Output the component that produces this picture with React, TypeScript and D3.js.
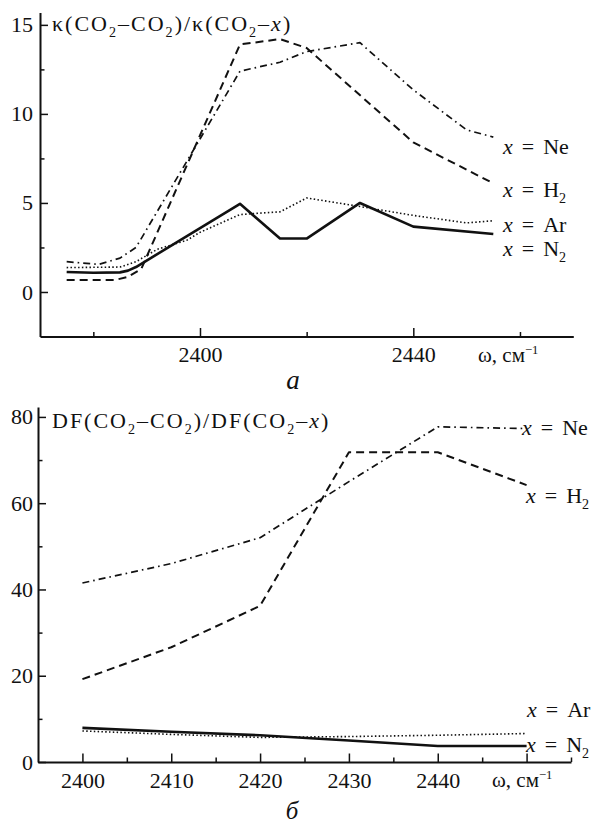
import React, { useEffect, useRef } from 'react';
import * as d3 from 'd3';

// panel "а": κ(CO2–CO2)/κ(CO2–x) vs ω
const topNeX = [2375, 2381, 2385, 2388, 2407.5, 2415, 2420, 2430, 2440, 2450, 2455];
const topNeY = [1.7, 1.55, 1.9, 2.5, 12.4, 12.9, 13.5, 14.0, 11.35, 9.1, 8.7];
const topH2X = [2375, 2384, 2386.5, 2389, 2407.5, 2415, 2420, 2440, 2455];
const topH2Y = [0.67, 0.67, 0.85, 1.3, 13.9, 14.2, 13.7, 8.4, 6.1];
const topArX = [2375, 2385, 2388, 2392, 2397.5, 2400, 2407.5, 2415, 2420, 2430, 2440, 2450, 2455];
const topArY = [1.37, 1.4, 1.7, 2.4, 2.9, 3.35, 4.35, 4.5, 5.28, 4.8, 4.3, 3.88, 4.0];
const topN2X = [2375, 2380, 2385, 2386.5, 2388, 2407.5, 2415, 2420, 2430, 2440, 2455];
const topN2Y = [1.12, 1.08, 1.1, 1.2, 1.4, 4.95, 3.0, 3.0, 5.0, 3.67, 3.26];
const topXTicks = [2400, 2440];
const topXMinor = [2380, 2420, 2460];
const topYTicks = [0, 5, 10, 15];
const topYMinor = [2.5, 7.5, 12.5];

// panel "б": DF(CO2–CO2)/DF(CO2–x) vs ω
const botX = [2400, 2410, 2420, 2430, 2440, 2450];
const botNe = [41.5, 46, 52, 65, 77.7, 77.3];
const botH2 = [19.2, 26.6, 36.2, 71.8, 71.8, 64.2];
const botAr = [7.2, 6.4, 5.7, 5.9, 6.2, 6.6];
const botN2 = [7.9, 7.0, 6.2, 5.0, 3.7, 3.7];
const botXTicks = [2400, 2410, 2420, 2430, 2440, 2450];
const botXLabels = [2400, 2410, 2420, 2430, 2440];
const botXMinor = [2405, 2415, 2425, 2435, 2445, 2455];
const botYTicks = [0, 20, 40, 60, 80];
const botYMinor = [10, 30, 50, 70];

const FONT = "'Liberation Serif', 'Times New Roman', 'DejaVu Serif', serif";
const INK = '#111';

type Part = { t: string; italic?: boolean; sub?: boolean; sup?: boolean; dx?: number };

const styles = {
  N2: { dash: null, width: 2.6 },
  Ar: { dash: '1.5,2.3', width: 1.6 },
  H2: { dash: '8,5', width: 2 },
  Ne: { dash: '7,4,1.6,4', width: 1.7 },
};

function richText(g: any, x: number, y: number, parts: Part[], size: number, spacing = 0, anchor = 'start') {
  const text = g.append('text')
    .attr('x', x)
    .attr('y', y)
    .style('font-family', FONT)
    .attr('font-size', size)
    .attr('fill', INK)
    .attr('text-anchor', anchor);
  if (spacing) text.attr('letter-spacing', spacing);
  let shift = 0;
  parts.forEach(p => {
    const ts = text.append('tspan').text(p.t);
    let target = 0;
    if (p.sub) { target = size * 0.28; ts.attr('font-size', size * 0.64); }
    if (p.sup) { target = -size * 0.4; ts.attr('font-size', size * 0.6); }
    if (target !== shift) { ts.attr('dy', target - shift); shift = target; }
    if (p.italic) ts.attr('font-style', 'italic');
    if (p.dx) ts.attr('dx', p.dx);
  });
}

const eqLabel = (gas: Part[]): Part[] => [
  { t: 'x', italic: true },
  { t: '=', dx: 9 },
  { ...gas[0], dx: 9 },
  ...gas.slice(1),
];

const omegaLabel: Part[] = [{ t: 'ω, см' }, { t: '−1', sup: true }];

function drawPanel(svg: any, cfg: any) {
  const { x, y, xTicks, xLabels, xMinor, yTicks, yMinor, yPad, series } = cfg;
  const x0 = x.range()[0];
  const y0 = y.range()[0];

  // minor ticks
  const gxm = svg.append('g').attr('transform', `translate(0,${y0})`)
    .call(d3.axisBottom(x).tickValues(xMinor).tickSize(-4.5).tickFormat(() => ''));
  gxm.select('.domain').remove();
  const gym = svg.append('g').attr('transform', `translate(${x0},0)`)
    .call(d3.axisLeft(y).tickValues(yMinor).tickSize(-4.5).tickFormat(() => ''));
  gym.select('.domain').remove();
  [gxm, gym].forEach(g => g.selectAll('line').attr('stroke', INK).attr('stroke-width', 1.5));

  const gx = svg.append('g').attr('transform', `translate(0,${y0})`)
    .call(d3.axisBottom(x).tickValues(xTicks).tickSize(-8.5).tickSizeOuter(0).tickPadding(10)
      .tickFormat((d: any) => (xLabels.includes(d) ? d3.format('d')(d) : '')));
  const gy = svg.append('g').attr('transform', `translate(${x0},0)`)
    .call(d3.axisLeft(y).tickValues(yTicks).tickSize(-8).tickSizeOuter(0).tickPadding(yPad).tickFormat(d3.format('d')));
  [gx, gy].forEach(g => {
    g.attr('font-family', null).attr('font-size', 22);
    g.select('.domain').attr('stroke', INK).attr('stroke-width', 2);
    g.selectAll('line').attr('stroke', INK).attr('stroke-width', 1.5);
    g.selectAll('text').attr('fill', INK).style('font-family', FONT);
  });

  series.forEach((s: any) => {
    const line = d3.line<number>()
      .x((_, i) => x(s.xs[i]))
      .y(d => y(d))
      .curve(d3.curveLinear);
    const path = svg.append('path')
      .datum(s.ys)
      .attr('fill', 'none')
      .attr('stroke', INK)
      .attr('stroke-width', s.style.width)
      .attr('stroke-linejoin', 'round')
      .attr('d', line);
    if (s.style.dash) path.attr('stroke-dasharray', s.style.dash);
  });
}

const App = () => {
  const ref = useRef<SVGSVGElement>(null);

  useEffect(() => {
    const svg = d3.select(ref.current);
    svg.selectAll('*').remove();

    // panel а
    const xTop = d3.scaleLinear().domain([2370, 2470]).range([40, 573.3]);
    const yTop = d3.scaleLinear().domain([-2.5, 15.7]).range([336.5, 12.4]);
    drawPanel(svg, {
      x: xTop, y: yTop, xTicks: topXTicks, xLabels: topXTicks, xMinor: topXMinor,
      yTicks: topYTicks, yMinor: topYMinor, yPad: 7,
      series: [
        { xs: topNeX, ys: topNeY, style: styles.Ne },
        { xs: topH2X, ys: topH2Y, style: styles.H2 },
        { xs: topArX, ys: topArY, style: styles.Ar },
        { xs: topN2X, ys: topN2Y, style: styles.N2 },
      ],
    });
    richText(svg, 52, 31, [
      { t: 'κ(CO' }, { t: '2', sub: true }, { t: '–CO' }, { t: '2', sub: true },
      { t: ')/κ(CO' }, { t: '2', sub: true }, { t: '–' }, { t: 'x', italic: true }, { t: ')' },
    ], 22, 2);
    richText(svg, 503, 154, eqLabel([{ t: 'Ne' }]), 22);
    richText(svg, 503, 197, eqLabel([{ t: 'H' }, { t: '2', sub: true }]), 22);
    richText(svg, 503, 232, eqLabel([{ t: 'Ar' }]), 22);
    richText(svg, 503, 256, eqLabel([{ t: 'N' }, { t: '2', sub: true }]), 22);
    richText(svg, 478, 362, omegaLabel, 21);
    richText(svg, 293, 389, [{ t: 'а', italic: true }], 27, 0, 'middle');

    // panel б
    const xBot = d3.scaleLinear().domain([2395, 2455]).range([38, 571]);
    const yBot = d3.scaleLinear().domain([0, 82.3]).range([762, 407]);
    drawPanel(svg, {
      x: xBot, y: yBot, xTicks: botXTicks, xLabels: botXLabels, xMinor: botXMinor,
      yTicks: botYTicks, yMinor: botYMinor, yPad: 5,
      series: [
        { xs: botX, ys: botNe, style: styles.Ne },
        { xs: botX, ys: botH2, style: styles.H2 },
        { xs: botX, ys: botAr, style: styles.Ar },
        { xs: botX, ys: botN2, style: styles.N2 },
      ],
    });
    richText(svg, 52, 428, [
      { t: 'DF(CO' }, { t: '2', sub: true }, { t: '–CO' }, { t: '2', sub: true },
      { t: ')/DF(CO' }, { t: '2', sub: true }, { t: '–' }, { t: 'x', italic: true }, { t: ')' },
    ], 22, 2);
    richText(svg, 522, 435, eqLabel([{ t: 'Ne' }]), 22);
    richText(svg, 526, 503, eqLabel([{ t: 'H' }, { t: '2', sub: true }]), 22);
    richText(svg, 527, 717, eqLabel([{ t: 'Ar' }]), 22);
    richText(svg, 526, 752, eqLabel([{ t: 'N' }, { t: '2', sub: true }]), 22);
    richText(svg, 492, 787, omegaLabel, 21);
    richText(svg, 292, 819, [{ t: 'б', italic: true }], 25, 0, 'middle');
  }, []);

  return (
    <svg
      ref={ref}
      width={598}
      height={825}
      viewBox="0 0 598 825"
      style={{ position: 'absolute', left: 0, top: 0, background: '#fff' }}
    />
  );
};

export default App;
